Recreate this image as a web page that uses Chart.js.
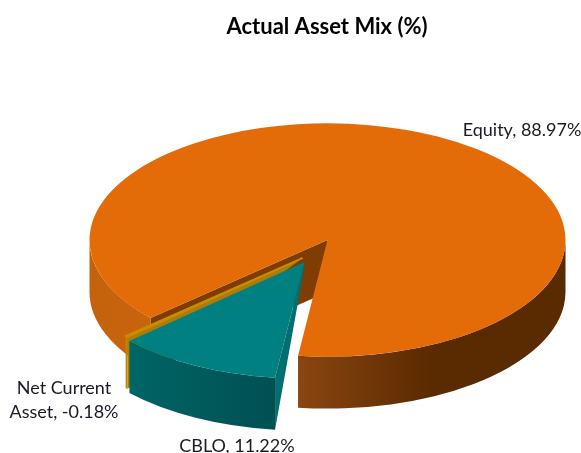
<!DOCTYPE html>
<html>
<head>
<meta charset="utf-8">
<style>
  html, body { margin: 0; padding: 0; background: #ffffff; }
  #wrap { position: relative; width: 581px; height: 453px; }
</style>
<script src="https://cdn.jsdelivr.net/npm/chart.js@4/dist/chart.umd.min.js"></script>
</head>
<body>
<div id="wrap"><canvas id="assetChart" width="581" height="453"></canvas></div>
<script>
const categories = ["Equity", "CBLO", "Net Current Asset"];
const assetValues = [88.97, 11.22, -0.18];

// label text broken the way the reference wraps it
const labelLines = [
    [`${categories[0]}, ${assetValues[0]}%`],
    [`${categories[1]}, ${assetValues[1]}%`],
    ["Net Current", `Asset, ${assetValues[2]}%`]
];

const topColors = ["#e36c09", "#008080", "#c98d00"];

// ---------- 3D PIE LOOK ----------
const pie3d = {
    id: "pie3d",

    beforeDatasetDraw(chart, args, opts) {
        const ctx = chart.ctx;
        const arcs = chart.getDatasetMeta(0).data;

        opts.drawOrder.forEach(i => {
            const arc = arcs[i];
            const shift = opts.explode[i];
            const cx = opts.centerX + shift[0];
            const cy = opts.centerY + shift[1];
            const rx = arc.outerRadius;
            const ry = rx * opts.tilt;
            const depth = opts.depth;

            // radial cut face, only when it looks toward the viewer
            if (-Math.cos(arc.startAngle) > 0) {
                const ex = cx + rx * Math.cos(arc.startAngle);
                const ey = cy + ry * Math.sin(arc.startAngle);
                ctx.beginPath();
                ctx.moveTo(cx, cy);
                ctx.lineTo(ex, ey);
                ctx.lineTo(ex, ey + depth);
                ctx.lineTo(cx, cy + opts.apexDepth[i]);
                ctx.closePath();
                ctx.fillStyle = opts.cutColors[i];
                ctx.fill();
            }

            // rim, the part of the arc on the front half of the ellipse
            [[0, Math.PI], [2 * Math.PI, 3 * Math.PI]].forEach(win => {
                const a0 = Math.max(arc.startAngle, win[0]);
                const a1 = Math.min(arc.endAngle, win[1]);
                if (a1 <= a0) return;
                const grad = ctx.createLinearGradient(opts.centerX - rx, 0, opts.centerX + rx, 0);
                opts.rimStops[i].forEach(s => grad.addColorStop(s[0], s[1]));
                ctx.beginPath();
                ctx.ellipse(cx, cy, rx, ry, 0, a0, a1);
                ctx.ellipse(cx, cy + depth, rx, ry, 0, a1, a0, true);
                ctx.closePath();
                ctx.fillStyle = grad;
                ctx.fill();
            });

            // top face is the library's own arc, squashed onto the ellipse
            ctx.save();
            ctx.translate(cx, cy);
            ctx.scale(1, opts.tilt);
            ctx.translate(-arc.x, -arc.y);
            arc.draw(ctx);
            ctx.restore();
        });

        return false;
    },

    afterDraw(chart, args, opts) {
        const ctx = chart.ctx;
        ctx.save();
        ctx.font = opts.labelFont;
        ctx.fillStyle = "#1a1a2a";
        ctx.textAlign = "center";
        ctx.textBaseline = "alphabetic";
        labelLines.forEach((lines, i) => {
            lines.forEach((line, j) => {
                ctx.fillText(line, opts.labelPos[i][0], opts.labelPos[i][1] + j * opts.labelLeading);
            });
        });
        ctx.restore();
    }
};

new Chart(document.getElementById("assetChart"), {
    type: "pie",
    data: {
        labels: categories,
        datasets: [{
            data: assetValues.map(v => Math.abs(v)),
            backgroundColor: topColors,
            borderColor: topColors,
            borderWidth: [0, 0, 3],
            radius: 238
        }]
    },
    plugins: [pie3d],
    options: {
        responsive: false,
        animation: false,
        rotation: 228,
        layout: { padding: { left: 73 } },
        plugins: {
            legend: { display: false },
            tooltip: { enabled: false },
            title: {
                display: true,
                text: "Actual Asset Mix (%)",
                color: "#000000",
                font: { family: "Lato", size: 22, weight: "bold" },
                padding: { top: 14, bottom: 10 }
            },
            pie3d: {
                centerX: 327.5,
                centerY: 240,
                tilt: 0.49,
                depth: 52,
                drawOrder: [0, 2, 1],
                explode: [[0, 0], [-23, 22], [-25, 18]],
                apexDepth: [52, 4, 0],
                cutColors: ["#7f3d03", "#006f6f", "#b07c00"],
                rimStops: [
                    [[0, "#c4620c"], [0.12, "#c8640c"], [0.44, "#8a4510"], [0.72, "#5a2a00"], [1, "#5a2a00"]],
                    [[0, "#006a6a"], [0.1, "#006464"], [0.44, "#004c50"], [1, "#004c50"]],
                    [[0, "#c08600"], [1, "#c08600"]]
                ],
                labelFont: "18px Lato",
                labelLeading: 24,
                labelPos: [[522, 136], [237, 452], [64, 394]]
            }
        }
    }
});
</script>
</body>
</html>
